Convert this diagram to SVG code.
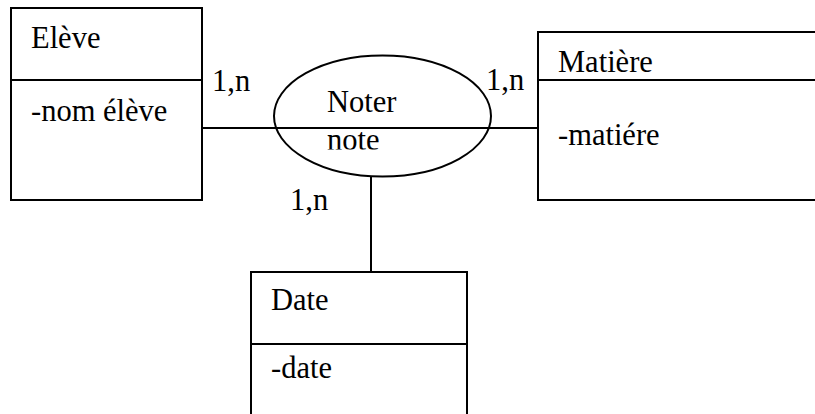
<svg xmlns="http://www.w3.org/2000/svg" width="815" height="414" viewBox="0 0 815 414">
<style>
.box{fill:#fff;stroke:#000;stroke-width:2}
.ln{stroke:#000;stroke-width:2;fill:none}
text{font-family:"Liberation Serif","Times New Roman",serif;font-size:30.5px;fill:#000}
</style>
<defs>
<clipPath id="noteclip"><rect x="300" y="125" width="120" height="24.5"/></clipPath>
</defs>
<rect width="815" height="414" fill="#fff"/>
<g id="connectors">
<line class="ln" x1="202" y1="128" x2="538" y2="128"/>
<line class="ln" x1="371" y1="177" x2="371" y2="272"/>
</g>
<g id="eleve">
<rect class="box" x="11" y="8" width="191" height="192"/>
<line class="ln" x1="11" y1="80" x2="202" y2="80"/>
<text x="31" y="48">Elève</text>
<text x="31" y="121">-nom élève</text>
</g>
<g id="matiere">
<path class="ln" d="M818 32 H538 V200 H818"/>
<line class="ln" x1="538" y1="80" x2="818" y2="80"/>
<text x="558" y="72">Matière</text>
<text x="558" y="145">-matiére</text>
</g>
<g id="noter">
<ellipse class="ln" cx="382.5" cy="116" rx="108.5" ry="60.5"/>
<line class="ln" x1="274" y1="128" x2="491" y2="128"/>
<text x="327" y="112">Noter</text>
<text x="327" y="150" clip-path="url(#noteclip)">note</text>
</g>
<g id="date">
<path class="ln" d="M251 418 V272 H467 V418"/>
<line class="ln" x1="251" y1="344" x2="467" y2="344"/>
<text x="271" y="310">Date</text>
<text x="271" y="378">-date</text>
</g>
<g id="labels">
<text x="212" y="91">1,n</text>
<text x="486" y="90">1,n</text>
<text x="290" y="210">1,n</text>
</g>
</svg>
